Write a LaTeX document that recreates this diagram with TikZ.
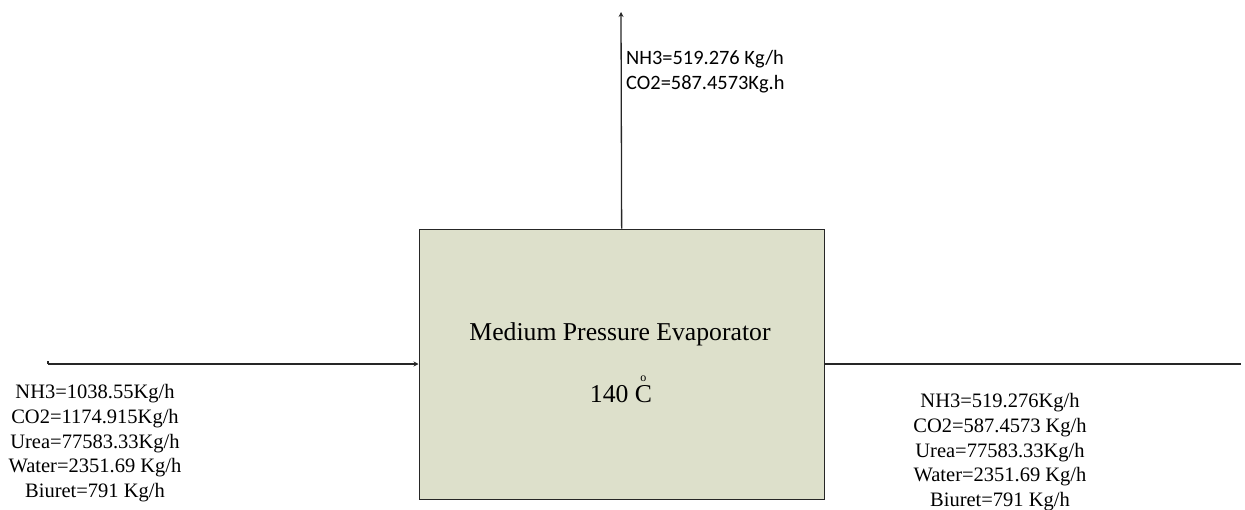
\documentclass[tikz,border=0pt]{standalone}
\usepackage{fontspec}
\setmainfont{Liberation Serif}
\newfontfamily\calfont{Carlito}
\usetikzlibrary{arrows.meta}
\newcommand{\ringC}{\ooalign{C\cr\hidewidth\raisebox{0.78em}{\fontsize{12}{12}\selectfont o}\hidewidth\cr}}
\begin{document}
\begin{tikzpicture}[x=1pt,y=-1pt,
  flow/.style={line width=1.3pt, draw=black!85},
  arr/.style={-{Stealth[length=5pt,width=5pt]}},
  lbl/.style={font=\fontsize{20.5}{24.8}\selectfont, align=center, inner sep=0pt, anchor=north},
  toplbl/.style={font=\calfont\fontsize{20.4}{25.5}\selectfont, align=left, inner sep=0pt, anchor=north west}]
\useasboundingbox (0,0) rectangle (1245,509);
\node[draw=black!85, line width=1.3pt, fill={rgb,255:red,221;green,224;blue,203}, minimum width=405pt, minimum height=270pt, anchor=north west, inner sep=0pt] (box) at (418.5,228.5) {};
\node[font=\fontsize{25.7}{30}\selectfont, inner sep=0pt, anchor=base] (title) at (620,340) {Medium Pressure Evaporator};
\node[font=\fontsize{25.7}{30}\selectfont, inner sep=0pt, anchor=base] (temp) at (621,402) {140 \ringC};
\coordinate (topend) at (621,12);
\coordinate (instart) at (48,364);
\coordinate (outend) at (1241,364);
\draw[flow,arr] (box.north) -- (topend);
\draw[flow,arr] (instart) -- (box.west |- instart);
\draw[flow] (instart) -- ++(0,-3);
\draw[flow] (box.east |- outend) -- (outend);
\node[toplbl] (toptxt) at (626,50) {NH3=519.276 Kg/h\\CO2=587.4573Kg.h};
\node[lbl] (intxt) at (95,384) {NH3=1038.55Kg/h\\CO2=1174.915Kg/h\\Urea=77583.33Kg/h\\Water=2351.69 Kg/h\\Biuret=791 Kg/h};
\node[lbl] (outtxt) at (1000,393) {NH3=519.276Kg/h\\CO2=587.4573 Kg/h\\Urea=77583.33Kg/h\\Water=2351.69 Kg/h\\Biuret=791 Kg/h};
\end{tikzpicture}
\end{document}
